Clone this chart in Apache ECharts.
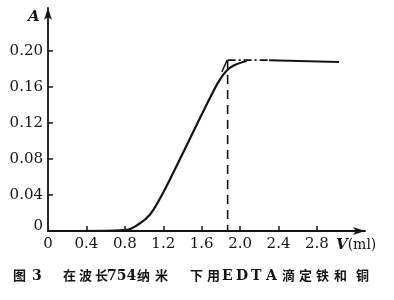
<!DOCTYPE html>
<html><head><meta charset="utf-8">
<script src="https://cdn.jsdelivr.net/npm/echarts@6/dist/echarts.min.js"></script>
<style>html,body{margin:0;padding:0;background:#fff}#c{width:394px;height:300px}</style>
</head><body><div id="c"></div>
<script>
// ---- data ----
const xTickValues = [0.4, 0.8, 1.2, 1.6, 2.0, 2.4, 2.8];
const xLabelValues = [0, 0.4, 0.8, 1.2, 1.6, 2.0, 2.4, 2.8];
const yTickValues = [0.04, 0.08, 0.12, 0.16, 0.20];
const yLabelValues = [0, 0.04, 0.08, 0.12, 0.16, 0.20];
// titration curve: V (ml) vs absorbance A
const curveV = [0.30, 0.80, 0.95, 1.06, 1.16, 1.30, 1.70, 1.80, 1.90, 2.07];
const curveA = [0.000, 0.001, 0.008, 0.018, 0.035, 0.064, 0.151, 0.170, 0.182, 0.189];
// plateau after end point
const plateauV = [2.30, 3.03];
const plateauA = [0.190, 0.188];
// dash-dot extrapolated plateau
const dashV = [1.87, 2.30];
const dashA = [0.190, 0.190];
// end point (vertical dashed line)
const endV = 1.87;
const endA = 0.190;
// extrapolated linear part
const tangentV = [1.81, 1.865];
const tangentA = [0.177, 0.190];

const pairs = (xs, ys) => xs.map((x, i) => [x, ys[i]]);
const SERIF = '"DejaVu Serif", "Liberation Serif", serif';
const CJK = '"Noto Sans CJK SC", sans-serif';
const INK = '#141414';

const caption = [
  ['图', 13, CJK], ['3', 32, SERIF], ['在', 63, CJK], ['波', 79, CJK], ['长', 95, CJK],
  ['754', 107, SERIF], ['纳', 137, CJK], ['米', 155, CJK], ['下', 190, CJK], ['用', 207, CJK],
  ['E', 222, SERIF], ['D', 236, SERIF], ['T', 251, SERIF], ['A', 266, SERIF],
  ['滴', 282, CJK], ['定', 299, CJK], ['铁', 316, CJK], ['和', 334, CJK], ['铜', 356, CJK]
];

const chart = echarts.init(document.getElementById('c'), null, {renderer: 'canvas'});
chart.setOption({
  animation: false,
  backgroundColor: '#fff',
  grid: {left: 48, right: 29, top: 8, bottom: 69, containLabel: false},
  xAxis: {
    type: 'value', min: 0, max: 3.3,
    splitLine: {show: false},
    axisLine: {onZero: false, lineStyle: {color: INK, width: 1.8}, symbol: ['none', 'arrow'], symbolSize: [6, 12]},
    axisTick: {inside: true, length: 5, lineStyle: {color: INK, width: 1.5}, customValues: xTickValues},
    axisLabel: {customValues: xLabelValues, margin: 6, color: INK, fontFamily: SERIF, fontSize: 15,
      formatter: v => v === 0 ? '0' : v.toFixed(1)}
  },
  yAxis: {
    type: 'value', min: 0, max: 0.248,
    splitLine: {show: false},
    axisLine: {onZero: false, lineStyle: {color: INK, width: 1.8}, symbol: ['none', 'arrow'], symbolSize: [6, 12]},
    axisTick: {inside: true, length: 5, lineStyle: {color: INK, width: 1.5}, customValues: yTickValues},
    axisLabel: {customValues: yLabelValues, margin: 5, color: INK, fontFamily: SERIF, fontSize: 15,
      formatter: v => v === 0 ? '{z|0}' : v.toFixed(2),
      rich: {z: {fontFamily: SERIF, fontSize: 15, color: INK, padding: [0, 0, 10, 0]}}}
  },
  series: [
    {type: 'line', data: pairs(curveV, curveA), smooth: 0.4, showSymbol: false,
      lineStyle: {color: INK, width: 2.2}},
    {type: 'line', data: pairs(plateauV, plateauA), showSymbol: false,
      lineStyle: {color: INK, width: 2}},
    {type: 'line', data: pairs(dashV, dashA), showSymbol: false,
      lineStyle: {color: INK, width: 1.6, type: [8, 3, 2, 3]}},
    {type: 'line', data: [[endV, 0], [endV, endA]], showSymbol: false,
      lineStyle: {color: INK, width: 1.6, type: [9, 6], dashOffset: 3}},
    {type: 'line', data: pairs(tangentV, tangentA), showSymbol: false,
      lineStyle: {color: INK, width: 1.4}}
  ],
  graphic: [
    {type: 'text', left: 28, top: 10, style: {text: 'A', font: 'italic bold 15px ' + SERIF, fill: INK}},
    {type: 'text', left: 336, top: 238, style: {
      text: '{v|V}{u|(ml)}',
      rich: {v: {font: 'italic bold 15px ' + SERIF, fill: INK, color: INK},
             u: {font: '14px ' + SERIF, fill: INK, color: INK}}}}
  ].concat(caption.map(([t, x, f]) => ({
    type: 'text', left: x, top: 269,
    style: {text: t, font: (f === CJK ? 'bold 13px ' : 'bold 14px ') + f, fill: INK}
  })))
});
</script>
</body></html>
